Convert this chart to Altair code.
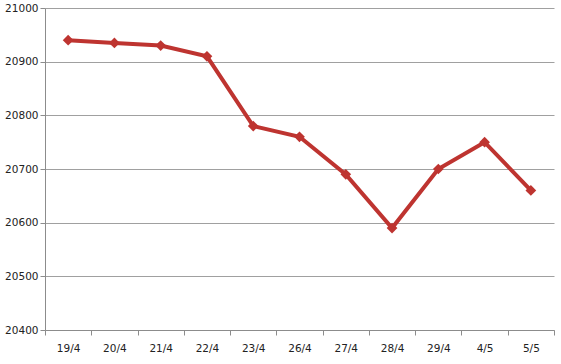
import altair as alt
import pandas as pd

dates = ["19/4", "20/4", "21/4", "22/4", "23/4", "26/4", "27/4", "28/4", "29/4", "4/5", "5/5"]
values = [20940, 20935, 20930, 20910, 20780, 20760, 20690, 20590, 20700, 20750, 20660]
y_ticks = [20400, 20500, 20600, 20700, 20800, 20900, 21000]

df = pd.DataFrame({"idx": list(range(len(dates))), "date": dates, "value": values})

n = len(dates)
boundaries = [i - 0.5 for i in range(n + 1)]
centers = list(range(n))
label_expr = "[" + ",".join("'%s'" % d for d in dates) + "][datum.value]"

FONT = "DejaVu Sans"
LINE = "#be3430"
GRID = "#a0a0a0"
DOMAIN = "#8c8c8c"

y_enc = alt.Y(
    "value:Q",
    scale=alt.Scale(domain=[20400, 21000], nice=False, zero=False),
    axis=alt.Axis(
        values=y_ticks, title=None, grid=True, gridColor=GRID, gridWidth=1,
        domainColor=DOMAIN, tickColor=DOMAIN, tickSize=5, labelPadding=2,
        labelFont=FONT, labelFontSize=10.5, labelColor="#222222", format="d",
    ),
)

x_scale = alt.Scale(domain=[-0.5, n - 0.5], nice=False, zero=False)

base_ticks = alt.Chart(df).mark_line(strokeWidth=4, color=LINE).encode(
    x=alt.X("idx:Q", scale=x_scale, axis=alt.Axis(
        values=boundaries, labels=False, title=None, grid=False, orient="bottom",
        domainColor=DOMAIN, tickColor=DOMAIN, tickSize=5)),
    y=y_enc,
)

points = alt.Chart(df).mark_point(shape="diamond", filled=True, size=115, color=LINE, opacity=1).encode(
    x=alt.X("idx:Q", scale=x_scale, axis=alt.Axis(
        values=centers, labelExpr=label_expr, ticks=False, domain=False, title=None,
        grid=False, orient="bottom", labelPadding=13, labelFont=FONT,
        labelFontSize=10.5, labelColor="#222222")),
    y=y_enc,
)

chart = alt.layer(base_ticks, points).resolve_axis(x="independent").properties(
    width=509, height=322,
    background="white",
    autosize=alt.AutoSizeParams(type="none"),
    padding={"left": 45, "top": 8, "right": 7, "bottom": 34},
).configure_view(strokeWidth=0, stroke="transparent")

chart.save("out.html", embed_options={"renderer": "svg", "actions": False})
